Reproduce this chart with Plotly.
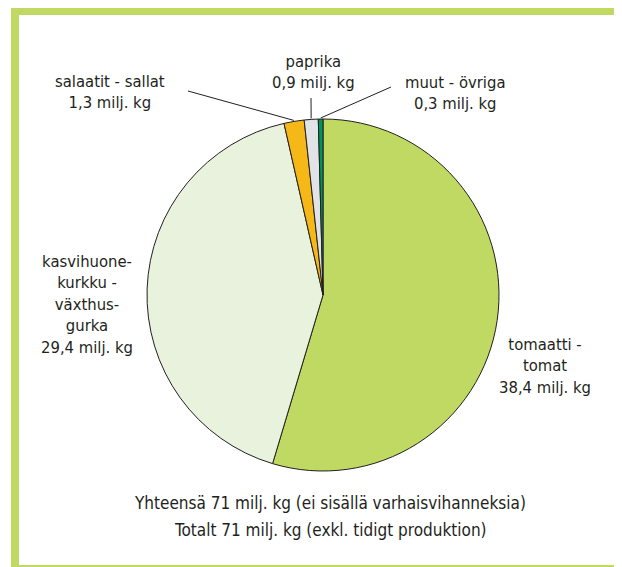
import math
import plotly.graph_objects as go

# ---- data ----
labels = ["tomaatti - tomat", "kasvihuonekurkku - växthusgurka",
          "salaatit - sallat", "paprika", "muut - övriga"]
values = [38.4, 29.4, 1.3, 0.9, 0.3]
colors = ["#BFD962", "#E8F2DC", "#F6B817", "#E1E3E6", "#00945A"]
label_texts = [
    "tomaatti -<br>tomat<br>38,4 milj. kg",
    "kasvihuone-<br>kurkku -<br>växthus-<br>gurka<br>29,4 milj. kg",
    "salaatit - sallat<br>1,3 milj. kg",
    "paprika<br>0,9 milj. kg",
    "muut - övriga<br>0,3 milj. kg",
]
footer_lines = ["Yhteensä 71 milj. kg (ei sisällä varhaisvihanneksia)",
                "Totalt 71 milj. kg (exkl. tidigt produktion)"]

# ---- layout constants (page pixels; page has an 8px body margin) ----
W, H = 622, 567
OFF = 8
CX, CY, R = 323, 295, 176
FONT = "Liberation Sans Narrow, Arial Narrow, DejaVu Sans Condensed, sans-serif"
TXT = "#231F20"

def px(x):
    return (x - OFF) / W

def py(y):
    return 1 - (y - OFF) / H

# label positions (page pixels) and leader-line start (label side) for small slices
label_pos = [(545, 366), (87, 304), (110, 92), (313, 72), (455, 93)]
leader_start = [None, None, (188, 91), (311, 98), (391, 87)]
footer_pos = [(330, 503), (330, 530)]

fig = go.Figure(go.Pie(
    labels=labels, values=values, sort=False, direction="clockwise", rotation=0,
    marker=dict(colors=colors, line=dict(color=TXT, width=1)),
    textinfo="none", hoverinfo="skip", showlegend=False,
    domain=dict(x=[px(CX - R), px(CX + R)], y=[py(CY + R), py(CY - R)]),
))

total = sum(values)
cum = 0
shapes = [dict(type="rect", xref="paper", yref="paper",
               x0=px(15), x1=px(620), y0=py(569), y1=py(11),
               line=dict(color="#BFD962", width=8), fillcolor="rgba(0,0,0,0)")]
annotations = []
for i, v in enumerate(values):
    mid = (cum + v / 2) / total * 2 * math.pi  # clockwise from 12 o'clock
    cum += v
    if leader_start[i] is not None:
        ex = CX + (R + 1) * math.sin(mid)
        ey = CY - (R + 1) * math.cos(mid)
        sx, sy = leader_start[i]
        shapes.append(dict(type="line", xref="paper", yref="paper",
                           x0=px(sx), y0=py(sy), x1=px(ex), y1=py(ey),
                           line=dict(color=TXT, width=1)))
    lx, ly = label_pos[i]
    annotations.append(dict(x=px(lx), y=py(ly), xref="paper", yref="paper",
                            text=label_texts[i], showarrow=False,
                            xanchor="center", yanchor="middle",
                            font=dict(family=FONT, size=16.5, color=TXT)))

for txt, (fx, fy) in zip(footer_lines, footer_pos):
    annotations.append(dict(x=px(fx), y=py(fy), xref="paper", yref="paper",
                            text=txt, showarrow=False, xanchor="center", yanchor="middle",
                            font=dict(family=FONT, size=17, color=TXT)))

fig.update_layout(width=W, height=H, margin=dict(l=0, r=0, t=0, b=0),
                  paper_bgcolor="white", plot_bgcolor="white",
                  shapes=shapes, annotations=annotations)
fig.write_html("out.html")
